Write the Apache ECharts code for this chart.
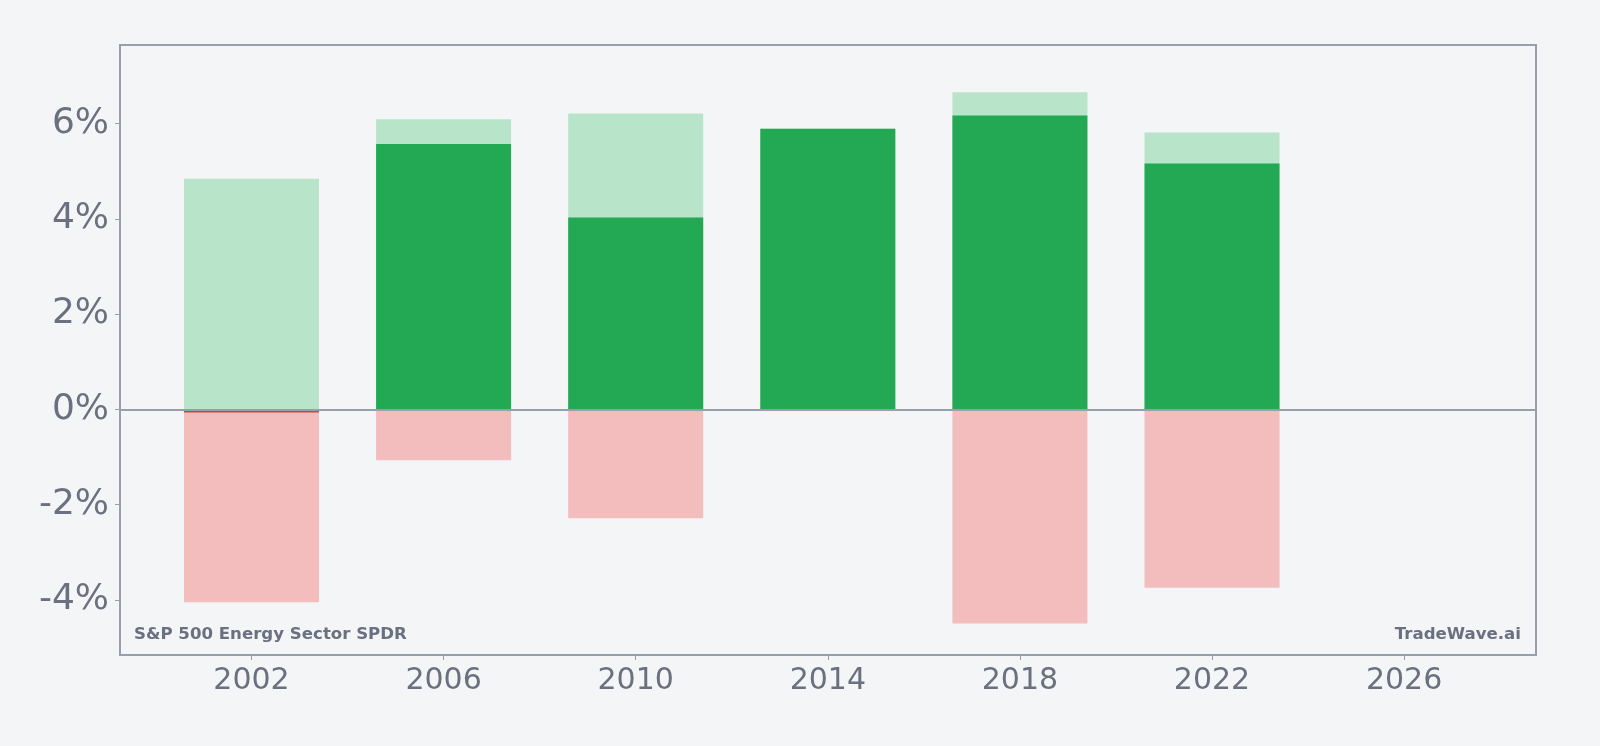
<!DOCTYPE html>
<html>
<head>
<meta charset="utf-8">
<script src="https://cdn.jsdelivr.net/npm/echarts@6/dist/echarts.min.js"></script>
<style>
html,body{margin:0;padding:0;background:#f4f5f7;}
#main{width:1600px;height:746px;}
</style>
</head>
<body>
<div id="main"></div>
<script>
var years = [2002, 2006, 2010, 2014, 2018, 2022];
var gainMax = [4.84, 6.09, 6.21, 5.89, 6.66, 5.81];   // light green
var gainReal = [0, 5.57, 4.03, 5.89, 6.17, 5.16];     // dark green
var lossMax = [-4.05, -1.07, -2.29, 0, -4.50, -3.75]; // light red
var lossReal = [-0.07, 0, 0, 0, 0, 0];                // dark red
var xTicks = [2002, 2006, 2010, 2014, 2018, 2022, 2026];
var yTicks = [-4, -2, 0, 2, 4, 6];

function pairs(vals){
    return years.map(function(y, i){ return [y, vals[i]]; });
}

var chart = echarts.init(document.getElementById("main"));
var textColor = '#6b7080';
var lineColor = '#9a9daa';
var option = {
    backgroundColor: '#f4f5f7',
    animation: false,
    grid: {
        left: 120, right: 64, top: 45, bottom: 91,
        show: true,
        borderColor: lineColor,
        borderWidth: 2,
        backgroundColor: 'transparent'
    },
    xAxis: {
        type: 'value',
        min: 1999.262,
        max: 2028.746,
        splitLine: {show: false},
        axisLine: {show: false, onZero: false},
        axisTick: {show: true, length: 5, customValues: xTicks, lineStyle: {color: lineColor}},
        axisLabel: {
            customValues: xTicks,
            color: textColor,
            fontFamily: 'DejaVu Sans',
            fontSize: 30,
            margin: 11,
            formatter: function(v){ return String(v); }
        }
    },
    yAxis: {
        type: 'value',
        min: -5.16,
        max: 7.65,
        splitLine: {show: false},
        axisLine: {show: false, onZero: false},
        axisTick: {show: true, length: 5, customValues: yTicks, lineStyle: {color: lineColor}},
        axisLabel: {
            customValues: yTicks,
            color: textColor,
            fontFamily: 'DejaVu Sans',
            fontSize: 36,
            margin: 11,
            formatter: '{value}%'
        }
    },
    series: [{
        name: 'gainMax', type: 'bar', barWidth: 135, barGap: '-100%',
        itemStyle: {color: '#b8e4c9'},
        data: pairs(gainMax)
    }, {
        name: 'gainReal', type: 'bar', barWidth: 135, barGap: '-100%',
        itemStyle: {color: '#23a853'},
        data: pairs(gainReal)
    }, {
        name: 'lossMax', type: 'bar', barWidth: 135, barGap: '-100%',
        itemStyle: {color: '#f3bcbd'},
        data: pairs(lossMax)
    }, {
        name: 'lossReal', type: 'bar', barWidth: 135, barGap: '-100%',
        itemStyle: {color: '#c9464f'},
        data: pairs(lossReal),
        markLine: {
            silent: true,
            symbol: 'none',
            label: {show: false},
            lineStyle: {color: lineColor, type: 'solid', width: 2},
            data: [{yAxis: 0}],
            z: 10
        }
    }],
    graphic: [{
        type: 'text', left: 134, top: 626,
        style: {text: 'S&P 500 Energy Sector SPDR', fill: textColor,
            font: 'bold 16.6px "DejaVu Sans"'}
    }, {
        type: 'text', right: 79, top: 626,
        style: {text: 'TradeWave.ai', fill: textColor,
            font: 'bold 16.6px "DejaVu Sans"'}
    }]
};
chart.setOption(option);
</script>
</body>
</html>
